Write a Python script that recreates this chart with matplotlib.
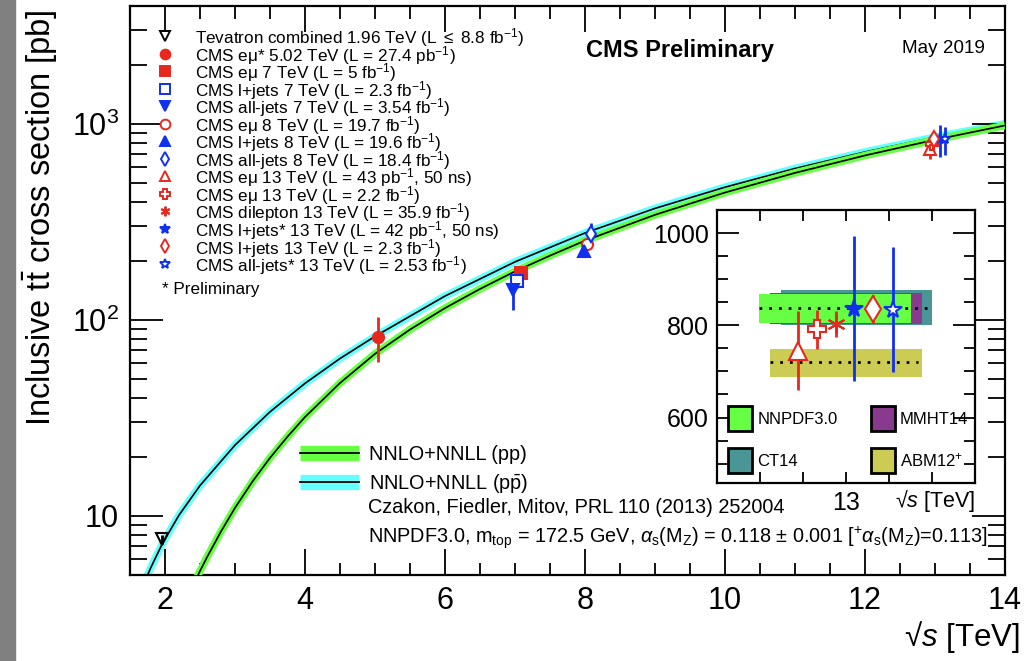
import matplotlib
matplotlib.use('Agg')
import matplotlib.pyplot as plt
from matplotlib.lines import Line2D
from matplotlib.patches import Patch, Rectangle
from matplotlib.legend_handler import HandlerTuple
from matplotlib.ticker import FixedLocator, FixedFormatter, MultipleLocator, LogLocator, NullFormatter

plt.rcParams['font.family'] = ['Liberation Sans', 'DejaVu Sans']
plt.rcParams['mathtext.fontset'] = 'custom'
plt.rcParams['mathtext.rm'] = 'Liberation Sans'
plt.rcParams['mathtext.it'] = 'Liberation Sans:italic'
plt.rcParams['mathtext.bf'] = 'Liberation Sans:bold'

# NNLO+NNLL predictions [pb]
pp_sqrts = [2.3, 2.4, 2.5, 2.6, 2.8, 3.0, 3.25, 3.5, 3.75, 4.0, 4.5, 5.0, 5.5, 6.0, 6.5,
            7.0, 7.5, 8, 9, 10, 11, 12, 13, 14]
pp_xsec = [3.68, 4.41, 5.24, 6.16, 8.34, 11.0, 15.0, 19.8, 25.4, 32.0, 47.7, 67.2, 89.4,
           115, 144, 177, 213, 254, 344, 447, 563, 691, 831, 983]
ppbar_sqrts = [1.6, 1.7, 1.8, 1.96, 2.2, 2.5, 3.0, 3.5, 4.0, 4.5, 5.0, 6, 7, 8, 9, 10,
               11, 12, 13, 14]
ppbar_xsec = [3.69, 4.54, 5.48, 7.2, 10.1, 14.3, 23.0, 34.0, 47.5, 63.6, 82.5, 132.5, 198,
              278, 371, 476, 593, 720, 857, 1003]

# measurements
meas_labels = [
    'Tevatron combined 1.96 TeV (L $\\leq$ 8.8 fb$^{-1}$)',
    'CMS e\u03bc* 5.02 TeV (L = 27.4 pb$^{-1}$)',
    'CMS e\u03bc 7 TeV (L = 5 fb$^{-1}$)',
    'CMS l+jets 7 TeV (L = 2.3 fb$^{-1}$)',
    'CMS all-jets 7 TeV (L = 3.54 fb$^{-1}$)',
    'CMS e\u03bc 8 TeV (L = 19.7 fb$^{-1}$)',
    'CMS l+jets 8 TeV (L = 19.6 fb$^{-1}$)',
    'CMS all-jets 8 TeV (L = 18.4 fb$^{-1}$)',
    'CMS e\u03bc 13 TeV (L = 43 pb$^{-1}$, 50 ns)',
    'CMS e\u03bc 13 TeV (L = 2.2 fb$^{-1}$)',
    'CMS dilepton 13 TeV (L = 35.9 fb$^{-1}$)',
    'CMS l+jets* 13 TeV (L = 42 pb$^{-1}$, 50 ns)',
    'CMS l+jets 13 TeV (L = 2.3 fb$^{-1}$)',
    'CMS all-jets* 13 TeV (L = 2.53 fb$^{-1}$)',
]
meas_sqrts = [1.96, 5.04, 7.08, 7.03, 6.97, 8.03, 7.98, 8.08, 12.93, 12.95, 12.97, 13.07, 12.99, 13.14]
meas_xsec = [7.6, 82, 174, 158, 142, 245, 226, 276, 745, 791, 803, 836, 836, 834]
meas_err = [0.4, 21, 6.5, 12, 29, 10, 12, 37, 85, 42, 29, 157, 30, 136]

# 13 TeV points in the zoomed inset (spread out horizontally)
inset_idx = [8, 9, 10, 11, 12, 13]
inset_sqrts = [12.888, 12.933, 12.977, 13.019, 13.063, 13.109]

# PDF predictions at 13 TeV [pb]
pdf_names = ['CT14', 'MMHT14', 'NNPDF3.0', 'ABM12$^{+}$']
pdf_low = [800, 802, 804, 688]
pdf_high = [876, 869, 867, 748]
nnpdf_central = 838
abm_central = 720

RED = '#e8281e'
BLUE = '#1030f0'
styles = [
    dict(marker='v', mfc='none', color='black'),
    dict(marker='o', mfc=RED, color=RED),
    dict(marker='s', mfc=RED, color=RED),
    dict(marker='s', mfc='white', color=BLUE),
    dict(marker='v', mfc=BLUE, color=BLUE),
    dict(marker='o', mfc='white', color=RED),
    dict(marker='^', mfc=BLUE, color=BLUE),
    dict(marker='d', mfc='white', color=BLUE),
    dict(marker='^', mfc='white', color=RED),
    dict(marker='P', mfc='white', color=RED),
    dict(marker=(6, 2, 0), mfc=RED, color=RED),
    dict(marker='*', mfc=BLUE, color=BLUE),
    dict(marker='d', mfc='white', color=RED),
    dict(marker='*', mfc='white', color=BLUE),
]
pdf_colors = ['#4a9595', '#8a3a8e', '#66ff44', '#cccc55']
pdf_xspan = [(12.849, 13.2), (12.823, 13.177), (12.798, 13.151), (12.823, 13.177)]

W, H = 1027, 661
fig = plt.figure(figsize=(W / 100, H / 100), dpi=100)
fig.patches.append(Rectangle((0, 0), 15 / W, 1, transform=fig.transFigure,
                             color='#808080', zorder=-5))
ax = fig.add_axes([130 / W, 1 - 575 / H, 875 / W, 569 / H])

ax.plot(ppbar_sqrts, ppbar_xsec, color='#66ffff', lw=5.5, solid_capstyle='butt', zorder=1)
ax.plot(ppbar_sqrts, ppbar_xsec, color='black', lw=1.2, zorder=2)
ax.plot(pp_sqrts, pp_xsec, color='#66ff44', lw=5.5, solid_capstyle='butt', zorder=3)
ax.plot(pp_sqrts, pp_xsec, color='black', lw=1.2, zorder=4)

for x, y, e, st in zip(meas_sqrts, meas_xsec, meas_err, styles):
    ax.errorbar([x], [y], yerr=[e], fmt='none', ecolor=st['color'], elinewidth=2, zorder=5)
    ax.plot([x], [y], ls='none', marker=st['marker'], ms=8, mfc=st['mfc'],
            mec=st['color'], mew=1.5, zorder=6)

ax.set_yscale('log')
ax.set_xlim(1.5, 14)
ax.set_ylim(5, 4000)
ax.xaxis.set_major_locator(MultipleLocator(2))
ax.xaxis.set_minor_locator(MultipleLocator(0.5))
ax.yaxis.set_major_locator(FixedLocator([10, 100, 1000]))
ax.yaxis.set_major_formatter(FixedFormatter(['10', '10$^{2}$', '10$^{3}$']))
ax.yaxis.set_minor_locator(LogLocator(base=10, subs=range(2, 10)))
ax.yaxis.set_minor_formatter(NullFormatter())
ax.tick_params(which='both', direction='in', top=True, right=True, labelsize=22, width=1.3)
ax.tick_params(axis='x', which='major', length=19, pad=8)
ax.tick_params(axis='x', which='minor', length=9)
ax.tick_params(axis='y', which='major', length=24, pad=8)
ax.tick_params(axis='y', which='minor', length=12)
for sp in ax.spines.values():
    sp.set_linewidth(1.6)

# legend of the measurements: markers on a fixed pitch, labels as one text block
row0, drow = 0.947, 17.5 / 569
for i, st in enumerate(styles):
    yy = row0 - i * drow
    ax.plot([0.04], [yy], transform=ax.transAxes, clip_on=False, ls='none',
            marker=st['marker'], ms=7, mfc=st['mfc'], mec=st['color'], mew=1.4)
ax.text(0.0743, row0 + 10 / 569, '\n'.join(meas_labels), transform=ax.transAxes,
        fontsize=12.3, va='top', linespacing=0.69)
ax.text(0.037, 0.502, '* Preliminary', transform=ax.transAxes, fontsize=12.3, va='center')

th_handles = [
    (Line2D([], [], color='#66ff44', lw=11, solid_capstyle='butt'), Line2D([], [], color='black', lw=1.3)),
    (Line2D([], [], color='#66ffff', lw=11, solid_capstyle='butt'), Line2D([], [], color='black', lw=1.3)),
]
ax.legend(th_handles, ['NNLO+NNLL (pp)', 'NNLO+NNLL (p$\\bar{\\mathrm{p}}$)'],
          handler_map={tuple: HandlerTuple(ndivide=1)},
          loc='upper left', bbox_to_anchor=(0.194, 0.229), frameon=False, fontsize=14.3,
          handlelength=3.0, handletextpad=0.5, labelspacing=0.4, borderpad=0,
          borderaxespad=0)
ax.text(0.272, 0.118, 'Czakon, Fiedler, Mitov, PRL 110 (2013) 252004', transform=ax.transAxes,
        fontsize=14.3, va='center')
ax.text(0.272, 0.065, 'NNPDF3.0, m$_{\\mathrm{top}}$ = 172.5 GeV, $\\alpha_{\\mathrm{s}}$(M$_{\\mathrm{Z}}$) = 0.118 '
        '\u00b1 0.001 [$^{+}\\alpha_{\\mathrm{s}}$(M$_{\\mathrm{Z}}$)=0.113]', transform=ax.transAxes,
        fontsize=14.3, va='center')
ax.text(0.6286, 0.921, 'CMS Preliminary', transform=ax.transAxes, fontsize=17,
        fontweight='bold', ha='center', va='center')
ax.text(0.977, 0.926, 'May 2019', transform=ax.transAxes, fontsize=13.6, ha='right', va='center')

fig.text(40 / W, 1 - 9 / H, 'Inclusive $\\mathrm{t\\bar{t}}$ cross section [pb]', rotation=90,
         ha='center', va='top', fontsize=23.5)
fig.text(1020 / W, 1 - 637 / H, '\u221a$\\mathit{s}$ [TeV]', ha='right', va='center', fontsize=22.5)

# inset
ins = fig.add_axes([717 / W, 1 - 483 / H, 258 / W, 273 / H])
for (x0, x1), lo, hi, c in zip(pdf_xspan, pdf_low, pdf_high, pdf_colors):
    ins.fill_between([x0, x1], [lo, lo], [hi, hi], color=c, lw=0, zorder=1)
ins.plot([12.798, 13.19], [nnpdf_central, nnpdf_central], color='black', lw=2,
         ls=(0, (1, 2.5)), zorder=2)
ins.plot([12.823, 13.167], [abm_central, abm_central], color='black', lw=2,
         ls=(0, (1, 2.5)), zorder=2)
for x, i in zip(inset_sqrts, inset_idx):
    st = styles[i]
    ins.errorbar([x], [meas_xsec[i]], yerr=[meas_err[i]], fmt='none', ecolor=st['color'],
                 elinewidth=2, zorder=3)
    ins.plot([x], [meas_xsec[i]], ls='none', marker=st['marker'], ms=13, mfc=st['mfc'],
             mec=st['color'], mew=1.5, zorder=4)
ins.set_xlim(12.7, 13.3)
ins.set_ylim(458, 1050)
ins.xaxis.set_major_locator(FixedLocator([12.8, 12.9, 13.0, 13.1, 13.2]))
ins.xaxis.set_major_formatter(FixedFormatter(['', '', '13', '', '']))
ins.yaxis.set_major_locator(MultipleLocator(200))
ins.yaxis.set_minor_locator(MultipleLocator(50))
ins.tick_params(which='both', direction='in', top=True, right=True, labelsize=18, width=1.3)
ins.tick_params(axis='x', which='major', length=8, pad=6)
ins.tick_params(axis='y', which='major', length=16, pad=6)
ins.tick_params(axis='y', which='minor', length=8)
for sp in ins.spines.values():
    sp.set_linewidth(1.6)
ins.text(1.0, -0.02, '\u221a$\\mathit{s}$ [TeV]', transform=ins.transAxes, fontsize=15.5,
         ha='right', va='top')

pdf_order = [2, 0, 1, 3]
pdf_handles = [Patch(facecolor=pdf_colors[k], edgecolor='black', lw=2, joinstyle='round')
               for k in pdf_order]
ins.legend(pdf_handles, [pdf_names[k] for k in pdf_order], ncol=2, loc='lower left',
           bbox_to_anchor=(0.043, 0.037), frameon=False, fontsize=12, handlelength=1.45,
           handleheight=1.9, handletextpad=0.3, columnspacing=2.0, labelspacing=1.05,
           borderpad=0, borderaxespad=0)

fig.savefig('out.png', dpi=100)
